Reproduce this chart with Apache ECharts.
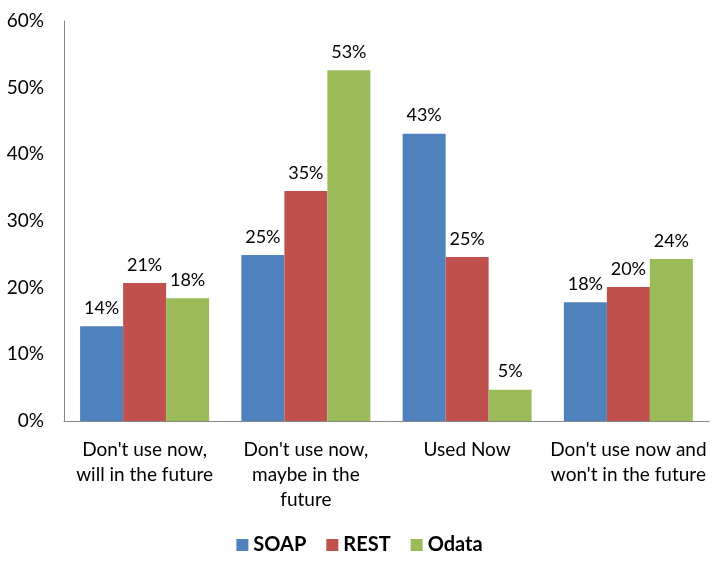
<!DOCTYPE html>
<html><head><meta charset="utf-8">
<script src="https://cdn.jsdelivr.net/npm/echarts@6/dist/echarts.min.js"></script>
<style>html,body{margin:0;padding:0;background:#fff}#c{width:719px;height:568px}</style>
</head><body><div id="c"></div>
<script>
const categories = ["Don't use now,\nwill in the future", "Don't use now,\nmaybe in the\nfuture", "Used Now", "Don't use now and\nwon't in the future"];
const soap = [14.2, 24.9, 43.1, 17.8];
const rest = [20.7, 34.5, 24.6, 20.1];
const odata = [18.4, 52.6, 4.7, 24.3];
const yTicks = [0, 10, 20, 30, 40, 50, 60];
const FONT = 'Lato';
const chart = echarts.init(document.getElementById('c'));
function mk(name, data, color) {
  return {
    name, type: 'bar', data, barGap: '0%', barCategoryGap: '20%',
    itemStyle: { color },
    label: { show: true, position: 'top', distance: 9, color: '#000', fontFamily: FONT, fontSize: 18,
      formatter: p => Math.round(p.value) + '%' }
  };
}
chart.setOption({
  animation: false,
  textStyle: { fontFamily: FONT },
  grid: { left: 64, right: 10, top: 21, bottom: 147, containLabel: false },
  legend: {
    bottom: 8, left: 'center', itemWidth: 12, itemHeight: 12, itemGap: 20,
    icon: 'rect',
    textStyle: { fontFamily: FONT, fontSize: 20, fontWeight: 'bold', color: '#000' },
    data: ['SOAP', 'REST', 'Odata']
  },
  xAxis: {
    type: 'category', data: categories,
    axisLine: { lineStyle: { color: '#868686', width: 1 } },
    axisTick: { show: false },
    axisLabel: { color: '#000', fontFamily: FONT, fontSize: 19, margin: 16, lineHeight: 25, interval: 0 }
  },
  yAxis: {
    type: 'value', min: yTicks[0], max: yTicks[yTicks.length - 1], interval: 10,
    axisLine: { show: true, lineStyle: { color: '#868686', width: 1 } },
    axisTick: { show: false },
    splitLine: { show: false },
    axisLabel: { color: '#000', fontFamily: FONT, fontSize: 19, margin: 20, formatter: v => v + '%' }
  },
  series: [mk('SOAP', soap, '#4F81BD'), mk('REST', rest, '#C0504D'), mk('Odata', odata, '#9BBB59')]
});
</script></body></html>
